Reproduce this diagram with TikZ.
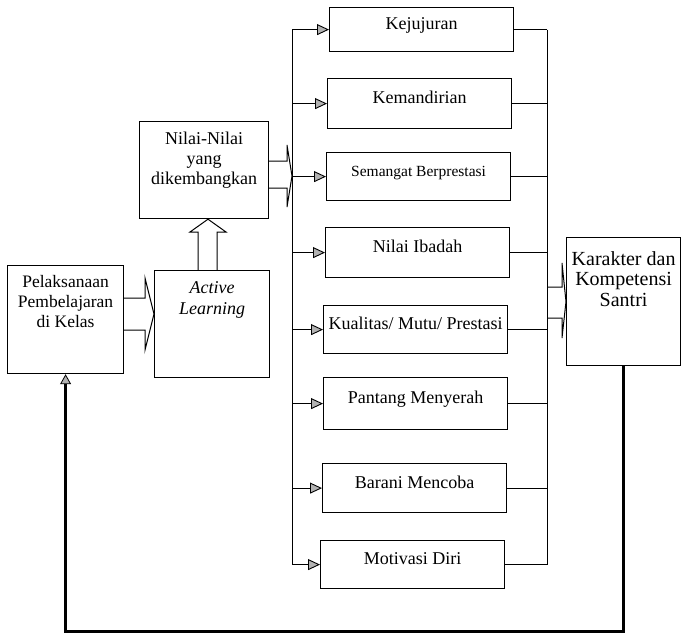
\documentclass[tikz,border=0pt]{standalone}
\usepackage{fontspec}
\setmainfont{Liberation Serif}
\usetikzlibrary{arrows.meta,calc}

\begin{document}
\begin{tikzpicture}[x=1pt,y=-1pt,
  mainbox/.style={draw,line width=1.2pt,anchor=north west,inner sep=0pt},
  nilaibox/.style={draw,line width=1.2pt,anchor=north west,minimum width=184pt,inner sep=0pt,
    text height=12pt,text depth=12pt,font=\fontsize{18}{20}\selectfont},
  boxtext/.style={anchor=north,align=center,inner sep=0pt,font=\fontsize{18}{20}\selectfont},
  line/.style={line width=0.9pt},
  branch/.style={line width=0.9pt,-{Triangle[length=12pt,width=11pt,fill=gray!60,line width=0.9pt]}},
  blockarrow/.style={line width=1pt,line join=miter},
  feedback/.style={line width=2.6pt,-{Triangle[length=10pt,width=11pt,fill=gray!60,line width=0.8pt]}}]
\useasboundingbox (0,0) rectangle (681,638);

% Main boxes
\node[mainbox,minimum width=116pt,minimum height=108pt,
  label={[boxtext,yshift=-10pt,font=\fontsize{17.5}{20}\selectfont]north:{Pelaksanaan\\Pembelajaran\\di Kelas}}] (pel) at (7,265) {};
\node[mainbox,minimum width=115pt,minimum height=107pt,
  label={[boxtext,yshift=-11pt,font=\fontsize{18}{21}\selectfont\itshape]north:{Active\\Learning}}] (act) at (154,270) {};
\node[mainbox,minimum width=129pt,minimum height=97pt,
  label={[boxtext,yshift=-11pt]north:{Nilai-Nilai\\yang\\dikembangkan}}] (nilai) at (139,121) {};
\node[mainbox,minimum width=114pt,minimum height=128pt,
  label={[boxtext,yshift=-14pt,font=\fontsize{20}{20.5}\selectfont]north:{Karakter dan\\Kompetensi\\Santri}}] (kar) at (566,237) {};

% Values
\foreach \nm/\x/\y/\h/\txt in {
  kej/329/7/44/Kejujuran,
  kem/327/78/50/Kemandirian,
  sem/326/152/48/{\fontsize{15.5}{18}\selectfont Semangat Berprestasi},
  iba/325/227/50/Nilai Ibadah,
  kua/323/305/48/{Kualitas/ Mutu/ Prestasi},
  pan/323/377/52/Pantang Menyerah,
  bar/322/463/49/Barani Mencoba,
  mot/320/540/48/Motivasi Diri}
  \node[nilaibox,minimum height=\h pt] (\nm) at (\x,\y) {\txt};

% Buses
\coordinate (lbus) at (292,0);
\coordinate (rbus) at (547,0);
\draw[line] (kej.west -| lbus) -- (mot.west -| lbus);
\draw[line] (kej.east -| rbus) -- (mot.east -| rbus);
\foreach \nm in {kej,kem,sem,iba,kua,pan,bar,mot} {
  \draw[branch] (\nm.west -| lbus) -- (\nm.west);
  \draw[line] (\nm.east) -- (\nm.east -| rbus);
}

% Block arrows
\draw[blockarrow] (pel.east |- 0,298) -- (145,298) -- (145,278) -- (act.west |- 0,314)
  -- (145,350) -- (145,330) -- (pel.east |- 0,330);
\draw[blockarrow] (198,270) -- (198,232) -- (190,232) -- (nilai.south -| 208,0)
  -- (226,232) -- (217,232) -- (217,270);
\draw[blockarrow] (nilai.east |- 0,161) -- (287,161) -- (287,145) -- (lbus |- 0,176)
  -- (287,207) -- (287,188) -- (nilai.east |- 0,188);
\draw[blockarrow] (rbus |- 0,287) -- (562,287) -- (562,263) -- (kar.west)
  -- (562,338) -- (562,318) -- (rbus |- 0,318);

% Feedback
\draw[feedback] (kar.south) -- ++(0,265) -| (pel.south);
\end{tikzpicture}
\end{document}
